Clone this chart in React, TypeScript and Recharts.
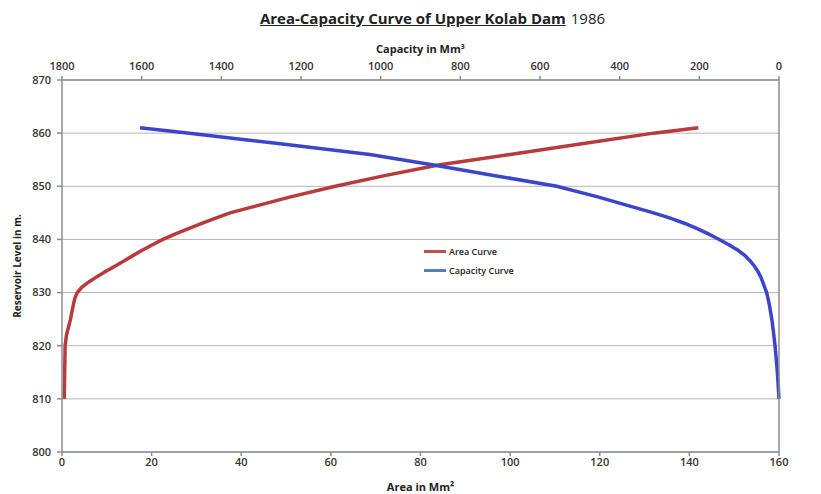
import { CartesianGrid, Line, LineChart, XAxis, YAxis } from "recharts"

// reservoir levels in m
const levels = [
    810, 815, 820, 822, 825, 828, 829, 830, 831, 832, 833, 834, 835, 836, 837, 838, 839, 840, 841, 842, 843, 844, 845,
    848, 850, 852, 854, 856, 858, 860, 861,
]
// area in Mm²
const areaValues = [
    0.5, 0.6, 0.7, 1.0, 1.9, 2.6, 2.9, 3.4, 4.4, 6.0, 7.8, 9.8, 11.9, 13.9, 15.9, 18.0, 20.2, 22.5, 25.2, 28.1, 31.2, 34.3,
    37.5, 51, 61, 72, 84, 100, 116, 132, 142,
]
// capacity in Mm³
const capacityValues = [
    0, 4, 10, 13, 18, 25, 28, 31, 36, 41, 46, 53, 62, 73, 86, 104, 126, 150, 176, 204, 236, 273, 315, 455, 558, 713, 867,
    1027, 1252, 1480, 1604,
]

const areaTicks = [0, 20, 40, 60, 80, 100, 120, 140, 160]
const capacityTicks = [0, 200, 400, 600, 800, 1000, 1200, 1400, 1600, 1800]
const levelTicks = [800, 810, 820, 830, 840, 850, 860, 870]

const data = levels.map((level, i) => ({ level, area: areaValues[i], cap: capacityValues[i] }))

const tickStyle = { fontSize: 11, fill: "#333", fontFamily: "Open Sans", fontWeight: 600 }
const titleStyle = { fontSize: 11, fontWeight: 700, fill: "#222" }
const axisColor = "#8c8c8c"

export default function App() {
    return (
        <div style={{ position: "absolute", left: 0, top: 0, width: 821, height: 494, fontFamily: "Open Sans" }}>
            <div style={{ position: "absolute", left: 0, width: 821, top: 7, textAlign: "center", paddingLeft: 22 }}>
                <span style={{ fontSize: 15, fontWeight: 700, textDecoration: "underline", color: "#222" }}>
                    Area-Capacity Curve of Upper Kolab Dam
                </span>
                <span style={{ fontSize: 15, color: "#222", marginLeft: 5 }}>1986</span>
            </div>
            <div style={{ position: "absolute", top: 30, left: 0 }}>
                <LineChart width={821} height={464} data={data} margin={{ top: 0, right: 0, bottom: 0, left: 0 }}>
                    <CartesianGrid xAxisId="area" yAxisId="left" vertical={false} stroke="#b5b5b5" />
                    <XAxis
                        xAxisId="area"
                        dataKey="area"
                        type="number"
                        domain={[0, 160]}
                        ticks={areaTicks}
                        orientation="bottom"
                        height={42}
                        stroke={axisColor}
                        strokeWidth={1.5}
                        tickSize={4}
                        tickMargin={2}
                        tick={tickStyle}
                        label={{ value: "Area in Mm²", position: "center", dy: 14, style: titleStyle }}
                    />
                    <XAxis
                        xAxisId="cap"
                        dataKey="cap"
                        type="number"
                        domain={[0, 1800]}
                        ticks={capacityTicks}
                        reversed
                        orientation="top"
                        height={50}
                        stroke={axisColor}
                        strokeWidth={1.5}
                        tickSize={4}
                        tickMargin={6}
                        tick={tickStyle}
                        label={{ value: "Capacity in Mm³", position: "center", dy: -6, style: titleStyle }}
                    />
                    <YAxis
                        yAxisId="left"
                        type="number"
                        domain={[800, 870]}
                        ticks={levelTicks}
                        width={62}
                        stroke={axisColor}
                        strokeWidth={1.5}
                        tickSize={5}
                        tickMargin={6}
                        tick={tickStyle}
                        label={{
                            value: "Reservoir Level in m.",
                            angle: -90,
                            position: "center",
                            dx: -14,
                            style: { fontSize: 10, fontWeight: 700, fill: "#222" },
                        }}
                    />
                    <YAxis
                        yAxisId="right"
                        orientation="right"
                        type="number"
                        domain={[800, 870]}
                        ticks={levelTicks}
                        width={42}
                        stroke={axisColor}
                        strokeWidth={1.5}
                        tickSize={5}
                        tickMargin={6}
                        tick={tickStyle}
                    />
                    <Line
                        xAxisId="area"
                        yAxisId="left"
                        dataKey="level"
                        stroke="#b83a3b"
                        strokeWidth={3.5}
                        dot={false}
                        type="linear"
                        isAnimationActive={false}
                    />
                    <Line
                        xAxisId="cap"
                        yAxisId="left"
                        dataKey="level"
                        stroke="#3a45cc"
                        strokeWidth={3.5}
                        dot={false}
                        type="linear"
                        isAnimationActive={false}
                    />
                </LineChart>
            </div>
            <div style={{ position: "absolute", left: 424, top: 242, fontSize: 9, fontWeight: 600, color: "#222", lineHeight: "19px" }}>
                <div style={{ display: "flex", alignItems: "center" }}>
                    <span style={{ width: 22, height: 3, background: "#c0504d", marginRight: 3 }} />
                    Area Curve
                </div>
                <div style={{ display: "flex", alignItems: "center" }}>
                    <span style={{ width: 22, height: 3, background: "#4f81bd", marginRight: 3 }} />
                    Capacity Curve
                </div>
            </div>
        </div>
    )
}
